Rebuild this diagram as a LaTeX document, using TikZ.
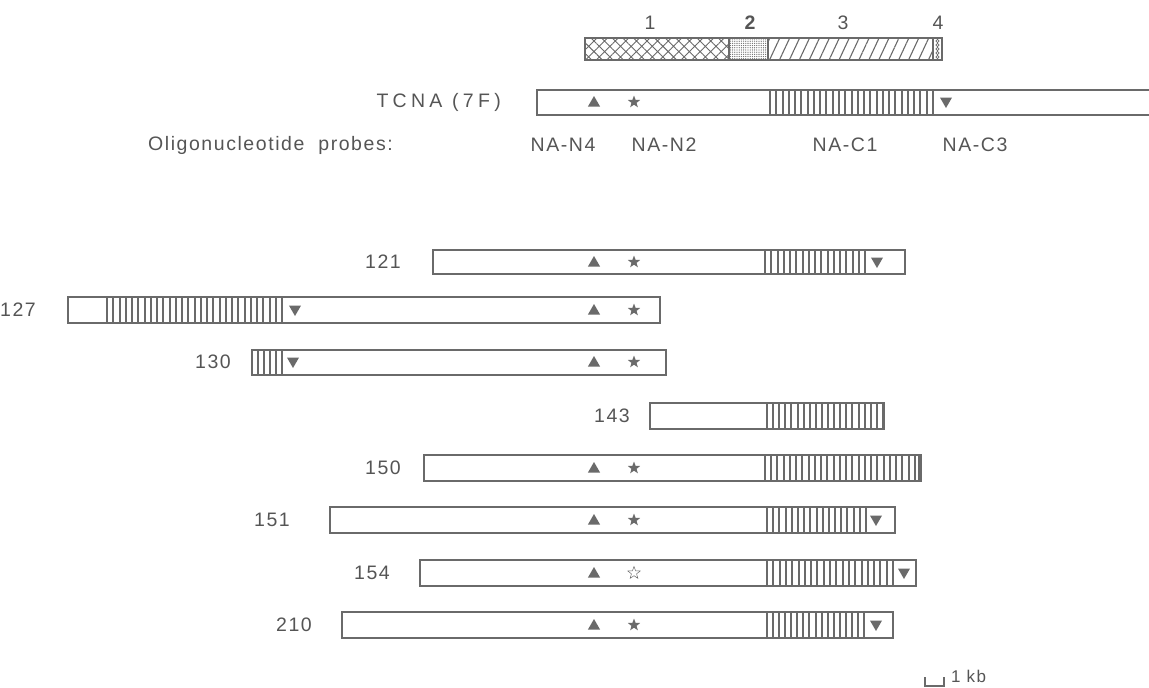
\documentclass[tikz,border=0pt]{standalone}
\usepackage{fontspec}
\setmainfont{Liberation Sans}[LetterSpace=8]
\usetikzlibrary{patterns.meta,shapes.geometric}
\definecolor{ink}{HTML}{6A6A6A}
\definecolor{txt}{HTML}{555555}
\tikzset{
  boxline/.style={draw=ink,line width=2pt},
  hatchline/.style={draw=ink,line width=1.1pt},
  lbl/.style={text=txt,font=\fontsize{19.5}{22}\selectfont,inner sep=0pt},
  uptri/.style={regular polygon,regular polygon sides=3,fill=ink,inner sep=0pt,minimum size=14pt},
  dntri/.style={regular polygon,regular polygon sides=3,shape border rotate=180,fill=ink,inner sep=0pt,minimum size=14pt},
  fstar/.style={star,star points=5,star point ratio=2.4,fill=ink,inner sep=0pt,minimum size=13pt},
  ostar/.style={star,star points=5,star point ratio=2.4,draw=ink,line width=0.5pt,inner sep=0pt,minimum size=13pt},
}
\newcommand\hatchfill[5]{\foreach \i in {0,...,#5}{\pgfmathsetmacro\hx{round(#1+(#2-#1)*\i/#5)}\draw[hatchline] (\hx,#3)--(\hx,#4);}}
\begin{document}
\begin{tikzpicture}[x=1pt,y=-1pt]
\useasboundingbox (0,0) rectangle (1149,688);
% domain bar
\fill[pattern={Hatch[angle=45,distance=7.5pt,line width=0.9pt]},pattern color=ink] (585,38) rectangle (729,60);
\fill[pattern={Dots[distance=2.2pt,radius=0.65pt]},pattern color=ink] (729,38) rectangle (768,60);
\fill[pattern={Lines[angle=65,distance=9pt,line width=1.1pt]},pattern color=ink] (768,38) rectangle (933,60);
\foreach \yy in {41,45,49,53,57} \draw[ink,line width=0.6pt] (937.5,\yy) circle (1.6);
\draw[boxline] (585,38) rectangle (942,60);
\draw[ink,line width=1.5pt] (729,38)--(729,60) (768,38)--(768,60) (933,38)--(933,60);
\node[lbl] (d1) at (650,23) {1};
\node[lbl,font=\fontsize{19.5}{22}\selectfont\bfseries] (d2) at (750,23) {2};
\node[lbl] (d3) at (843,23) {3};
\node[lbl] (d4) at (938,23) {4};
% TCNA
\node[lbl,anchor=east] (ltcna) at (501,102) {\addfontfeatures{LetterSpace=22}TCNA\ (7F)};
\hatchfill{770}{933}{90}{115}{26}
\draw[boxline] (1150,90) -- (537,90) -- (537,115) -- (1150,115);
\node[uptri] (tr0) at (594,103) {};
\node[fstar] (st0) at (634,102) {};
\node[dntri] (dt0) at (946,101) {};
% probes
\node[lbl,anchor=west] (probes) at (148,145) {Oligonucleotide\ \ probes:};
\node[lbl] (n4) at (563,145) {NA-N4};
\node[lbl] (n2) at (664,145) {NA-N2};
\node[lbl] (c1) at (845,145) {NA-C1};
\node[lbl] (c3) at (975,145) {NA-C3};
% 121
\node[lbl,anchor=east] (l121) at (401,262) {121};
\hatchfill{765}{865}{250}{274}{16}
\draw[boxline] (433,250) rectangle (905,274);
\node[uptri] (tr1) at (594,263) {};
\node[fstar] (st1) at (634,262) {};
\node[dntri] (dt1) at (877,261) {};
% 127
\node[lbl,anchor=east] (l127) at (36,310) {127};
\hatchfill{107}{282}{297}{323}{28}
\draw[boxline] (68,297) rectangle (660,323);
\node[uptri] (tr2) at (594,311) {};
\node[fstar] (st2) at (634,310) {};
\node[dntri] (dt2) at (295,309) {};
% 130
\node[lbl,anchor=east] (l130) at (231,362) {130};
\hatchfill{252}{282}{350}{375}{5}
\draw[boxline] (252,350) rectangle (666,375);
\node[uptri] (tr3) at (594,363) {};
\node[fstar] (st3) at (634,362) {};
\node[dntri] (dt3) at (293,361) {};
% 143
\node[lbl,anchor=east] (l143) at (630,416) {143};
\hatchfill{767}{883}{403}{429}{19}
\draw[boxline] (650,403) rectangle (884,429);
% 150
\node[lbl,anchor=east] (l150) at (401,468) {150};
\hatchfill{765}{921}{455}{481}{25}
\draw[boxline] (424,455) rectangle (921,481);
\draw[ink,line width=3.5pt] (920,455)--(920,481);
\node[uptri] (tr5) at (594,469) {};
\node[fstar] (st5) at (634,468) {};
% 151
\node[lbl,anchor=east] (l151) at (290,520) {151};
\hatchfill{767}{866}{507}{533}{16}
\draw[boxline] (330,507) rectangle (895,533);
\node[uptri] (tr6) at (594,521) {};
\node[fstar] (st6) at (634,520) {};
\node[dntri] (dt6) at (876,519) {};
% 154
\node[lbl,anchor=east] (l154) at (390,573) {154};
\hatchfill{767}{893}{560}{586}{20}
\draw[boxline] (420,560) rectangle (916,586);
\node[uptri] (tr7) at (594,574) {};
\node[ostar] (st7) at (634,573) {};
\node[dntri] (dt7) at (904,572) {};
% 210
\node[lbl,anchor=east] (l210) at (312,625) {210};
\hatchfill{767}{864}{612}{638}{16}
\draw[boxline] (342,612) rectangle (893,638);
\node[uptri] (tr8) at (594,626) {};
\node[fstar] (st8) at (634,625) {};
\node[dntri] (dt8) at (876,624) {};
% scale bar
\coordinate (sbl) at (925,677);
\coordinate (sbr) at (944,677);
\draw[ink,line width=1.6pt] (sbl) -- (925,686) -- (944,686) -- (sbr);
\node[lbl,anchor=west,font=\fontsize{17}{20}\selectfont] (kb) at (951,676) {1 kb};
\end{tikzpicture}
\end{document}
